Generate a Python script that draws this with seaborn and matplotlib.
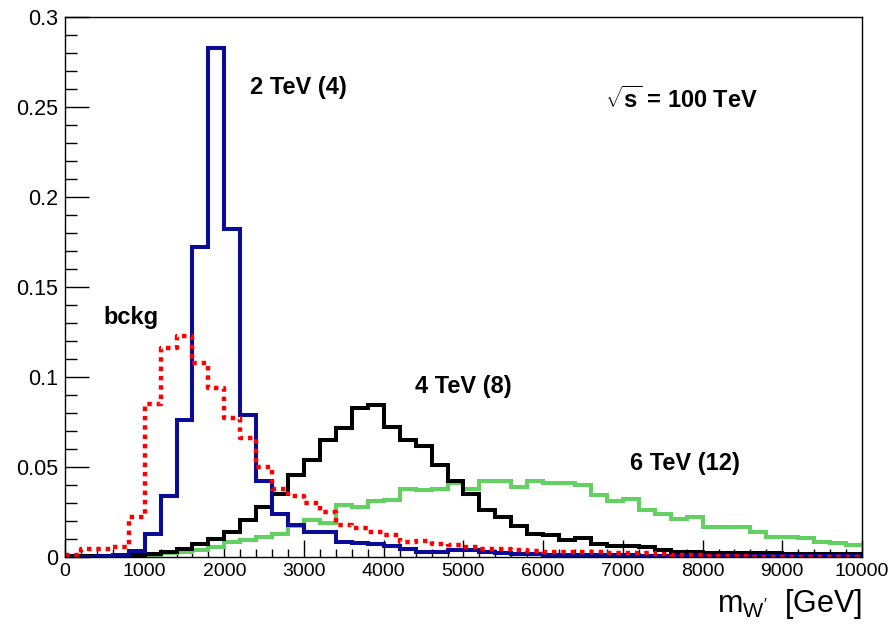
import numpy as np
import pandas as pd
import matplotlib
matplotlib.use("Agg")
import matplotlib.pyplot as plt
import seaborn as sns
from matplotlib.ticker import MultipleLocator, FuncFormatter

# ---------------- data (50 bins of 200 GeV, 0..10000 GeV) ----------------
bin_edges = list(range(0, 10001, 200))

w2tev = [0.0, 0.0, 0.0003, 0.001, 0.0033, 0.013, 0.034, 0.076, 0.172, 0.283,
         0.182, 0.079, 0.042, 0.024, 0.018, 0.014, 0.014, 0.0085, 0.008, 0.0075,
         0.006, 0.0043, 0.0028, 0.0028, 0.004, 0.0037, 0.0028, 0.0024, 0.0016, 0.0015,
         0.0012, 0.0012, 0.001, 0.001, 0.0009, 0.0009, 0.0008, 0.0008, 0.0007, 0.0007,
         0.0006, 0.0006, 0.0006, 0.0005, 0.0005, 0.0005, 0.0005, 0.0005, 0.0005, 0.0005]

bckg = [0.001, 0.0045, 0.0045, 0.0056, 0.022, 0.085, 0.116, 0.123, 0.108, 0.094,
        0.077, 0.066, 0.050, 0.038, 0.034, 0.030, 0.025, 0.018, 0.016, 0.014,
        0.012, 0.0085, 0.009, 0.0072, 0.0067, 0.0055, 0.0044, 0.0044, 0.0037, 0.0033,
        0.003, 0.003, 0.0028, 0.0028, 0.0025, 0.0022, 0.002, 0.0018, 0.0012, 0.001,
        0.0008, 0.0006, 0.0005, 0.0, 0.0, 0.0, 0.0, 0.0, 0.0, 0.0]

w4tev = [0.0003, 0.0003, 0.0005, 0.0005, 0.001, 0.0015, 0.003, 0.0042, 0.0075, 0.0102,
         0.0138, 0.0205, 0.028, 0.035, 0.0456, 0.054, 0.065, 0.0715, 0.083, 0.0845,
         0.072, 0.065, 0.0617, 0.051, 0.042, 0.035, 0.026, 0.022, 0.017, 0.013,
         0.012, 0.0095, 0.0104, 0.0075, 0.006, 0.006, 0.0057, 0.004, 0.003, 0.003,
         0.0025, 0.0025, 0.0022, 0.002, 0.002, 0.0018, 0.0018, 0.0016, 0.0015, 0.0015]

w6tev = [0.0003, 0.0003, 0.0003, 0.0005, 0.0005, 0.0013, 0.002, 0.003, 0.004, 0.0055,
         0.0085, 0.0094, 0.0113, 0.013, 0.017, 0.0205, 0.0187, 0.029, 0.028, 0.031,
         0.0317, 0.038, 0.037, 0.038, 0.041, 0.038, 0.042, 0.042, 0.039, 0.042,
         0.041, 0.041, 0.040, 0.0344, 0.0313, 0.032, 0.0261, 0.0237, 0.0209, 0.022,
         0.0169, 0.0165, 0.0169, 0.0141, 0.0113, 0.0113, 0.0104, 0.0085, 0.0076, 0.0067]

x_ticks = [0, 1000, 2000, 3000, 4000, 5000, 6000, 7000, 8000, 9000, 10000]
y_ticks = [0, 0.05, 0.1, 0.15, 0.2, 0.25, 0.3]

# ---------------- build long table ----------------
edges = np.array(bin_edges, dtype=float)
centers = 0.5 * (edges[:-1] + edges[1:])
samples = {"6 TeV": w6tev, "4 TeV": w4tev, "2 TeV": w2tev, "bckg": bckg}
df = pd.concat([pd.DataFrame({"mass": centers, "weight": v, "sample": k})
                for k, v in samples.items()], ignore_index=True)

# ---------------- style ----------------
sns.set_style("ticks")
plt.rcParams["font.family"] = ["Liberation Sans", "DejaVu Sans"]
plt.rcParams["text.color"] = "black"
plt.rcParams["axes.labelcolor"] = "black"
plt.rcParams["xtick.color"] = "black"
plt.rcParams["ytick.color"] = "black"
plt.rcParams["mathtext.fontset"] = "custom"
plt.rcParams["mathtext.rm"] = "Liberation Sans"
plt.rcParams["mathtext.it"] = "Liberation Sans:italic"
plt.rcParams["mathtext.bf"] = "Liberation Sans:bold"

fig = plt.figure(figsize=(8.95, 6.25), dpi=100)
ax = fig.add_axes([0.0726, 0.1088, 0.8905, 0.864])

styles = {
    "6 TeV": dict(color="#62d162", linewidth=2.9, linestyle="-"),
    "4 TeV": dict(color="black", linewidth=2.9, linestyle="-"),
    "2 TeV": dict(color="#0b0b99", linewidth=2.9, linestyle="-"),
    "bckg": dict(color="#ff0000", linewidth=3.2, linestyle=(0, (1, 1.1))),
}
for name in ["6 TeV", "4 TeV", "2 TeV", "bckg"]:
    sub = df[df["sample"] == name]
    st = styles[name]
    sns.histplot(data=sub, x="mass", weights="weight", bins=bin_edges,
                 element="step", fill=False, ax=ax,
                 color=st["color"], linewidth=st["linewidth"],
                 linestyle=st["linestyle"])

for line in ax.get_lines():
    line.set_dash_capstyle("butt")
    line.set_solid_joinstyle("miter")

ax.set_xlim(0, 10000)
ax.set_ylim(0, 0.3)
ax.set_xlabel("")
ax.set_ylabel("")

ax.xaxis.set_major_locator(MultipleLocator(1000))
ax.xaxis.set_minor_locator(MultipleLocator(200))
ax.yaxis.set_major_locator(MultipleLocator(0.05))
ax.yaxis.set_minor_locator(MultipleLocator(0.01))
ax.set_xticks(x_ticks)
ax.set_yticks(y_ticks)
ax.xaxis.set_major_formatter(FuncFormatter(lambda v, p: "%g" % v))
ax.yaxis.set_major_formatter(FuncFormatter(lambda v, p: "%g" % round(v, 3)))

ax.tick_params(axis="both", which="both", direction="in", top=False, right=False,
               width=1.0, colors="black", labelcolor="black")
ax.tick_params(axis="x", which="major", length=12, pad=4, labelsize=14)
ax.tick_params(axis="x", which="minor", length=6)
ax.tick_params(axis="y", which="major", length=17, pad=5, labelsize=15.5)
ax.tick_params(axis="y", which="minor", length=8.5)

for sp in ax.spines.values():
    sp.set_visible(True)
    sp.set_color("black")
    sp.set_linewidth(1.0)

# ---------------- annotations ----------------
ax.text(2321, 0.2606, "2 TeV (4)", fontsize=17, fontweight="bold", ha="left", va="center")
ax.text(477, 0.1328, "bckg", fontsize=17, fontweight="bold", ha="left", va="center")
ax.text(4391, 0.095, "4 TeV (8)", fontsize=17, fontweight="bold", ha="left", va="center")
ax.text(7089, 0.0522, "6 TeV (12)", fontsize=17, fontweight="bold", ha="left", va="center")
ax.text(6775, 0.254, r"$\sqrt{\mathbf{s}}$ = 100 TeV", fontsize=17, fontweight="bold",
        ha="left", va="center")

fig.text(0.963, 0.034, r"m$_{\mathrm{W'}}$  [GeV]", fontsize=22, ha="right", va="center")

fig.savefig("out.png", dpi=100)
